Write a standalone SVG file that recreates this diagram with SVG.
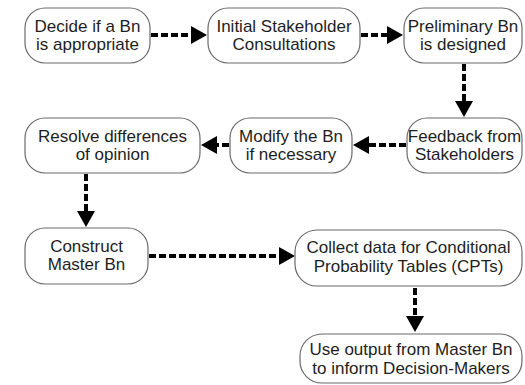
<svg xmlns="http://www.w3.org/2000/svg" width="525" height="385" viewBox="0 0 525 385">
  <defs>
    <style>
      .box { fill: #ffffff; stroke: #6b6b6b; stroke-width: 1.2; }
      .lbl { font-family: "Liberation Sans", Arial, sans-serif; font-size: 17px; fill: #1e1e1e; text-anchor: middle; }
      .flow { fill: none; stroke: #000000; stroke-width: 4; stroke-dasharray: 7 3; }
      .head { fill: #000000; }
    </style>
  </defs>
  <rect width="525" height="385" fill="#ffffff"/>

  <!-- flow connectors: dashed shafts with solid triangular heads -->
  <g id="connectors">
    <!-- Decide -> Initial consultations -->
    <path class="flow" d="M151 35 H192"/>
    <polygon class="head" points="191,26 207,35 191,44"/>
    <!-- Initial consultations -> Preliminary Bn -->
    <path class="flow" d="M361 35 H388"/>
    <polygon class="head" points="387,26 403,35 387,44"/>
    <!-- Preliminary Bn -> Feedback -->
    <path class="flow" d="M464 64 V102"/>
    <polygon class="head" points="455,101 464,117 473,101"/>
    <!-- Feedback -> Modify -->
    <path class="flow" d="M406 145 H368"/>
    <polygon class="head" points="369,136 353,145 369,154"/>
    <!-- Modify -> Resolve -->
    <path class="flow" d="M229 145 H216"/>
    <polygon class="head" points="217,136 201,145 217,154"/>
    <!-- Resolve -> Construct -->
    <path class="flow" d="M86 174 V212"/>
    <polygon class="head" points="77,211 86,227 95,211"/>
    <!-- Construct -> Collect data -->
    <path class="flow" d="M149 256 H280"/>
    <polygon class="head" points="279,247 295,256 279,265"/>
    <!-- Collect data -> Use output -->
    <path class="flow" d="M415 288 V317"/>
    <polygon class="head" points="406,316 415,332 424,316"/>
  </g>

  <g id="decide">
    <rect class="box" x="25" y="8" width="125" height="55" rx="20"/>
    <text class="lbl" x="87.5" y="32">Decide if a Bn</text>
    <text class="lbl" x="87.5" y="50">is appropriate</text>
  </g>
  <g id="initial-consultations">
    <rect class="box" x="208" y="8" width="152" height="55" rx="20"/>
    <text class="lbl" x="284" y="32">Initial Stakeholder</text>
    <text class="lbl" x="284" y="50">Consultations</text>
  </g>
  <g id="preliminary-bn">
    <rect class="box" x="404" y="8" width="118" height="55" rx="20"/>
    <text class="lbl" x="463" y="32">Preliminary Bn</text>
    <text class="lbl" x="463" y="50">is designed</text>
  </g>
  <g id="resolve">
    <rect class="box" x="25" y="118" width="175" height="55" rx="20"/>
    <text class="lbl" x="112.5" y="142">Resolve differences</text>
    <text class="lbl" x="112.5" y="160">of opinion</text>
  </g>
  <g id="modify">
    <rect class="box" x="230" y="118" width="122" height="55" rx="20"/>
    <text class="lbl" x="291" y="142">Modify the Bn</text>
    <text class="lbl" x="291" y="160">if necessary</text>
  </g>
  <g id="feedback">
    <rect class="box" x="407" y="118" width="115" height="55" rx="20"/>
    <text class="lbl" x="464.5" y="142">Feedback from</text>
    <text class="lbl" x="464.5" y="160">Stakeholders</text>
  </g>
  <g id="construct">
    <rect class="box" x="25" y="228" width="123" height="56" rx="20"/>
    <text class="lbl" x="86.5" y="252">Construct</text>
    <text class="lbl" x="86.5" y="270">Master Bn</text>
  </g>
  <g id="collect-data">
    <rect class="box" x="295" y="230" width="227" height="56" rx="22"/>
    <text class="lbl" x="408.5" y="253">Collect data for Conditional</text>
    <text class="lbl" x="408.5" y="272">Probability Tables (CPTs)</text>
  </g>
  <g id="use-output">
    <rect class="box" x="300" y="334" width="222" height="49" rx="22"/>
    <text class="lbl" x="411" y="355">Use output from Master Bn</text>
    <text class="lbl" x="411" y="374">to inform Decision-Makers</text>
  </g>
</svg>
